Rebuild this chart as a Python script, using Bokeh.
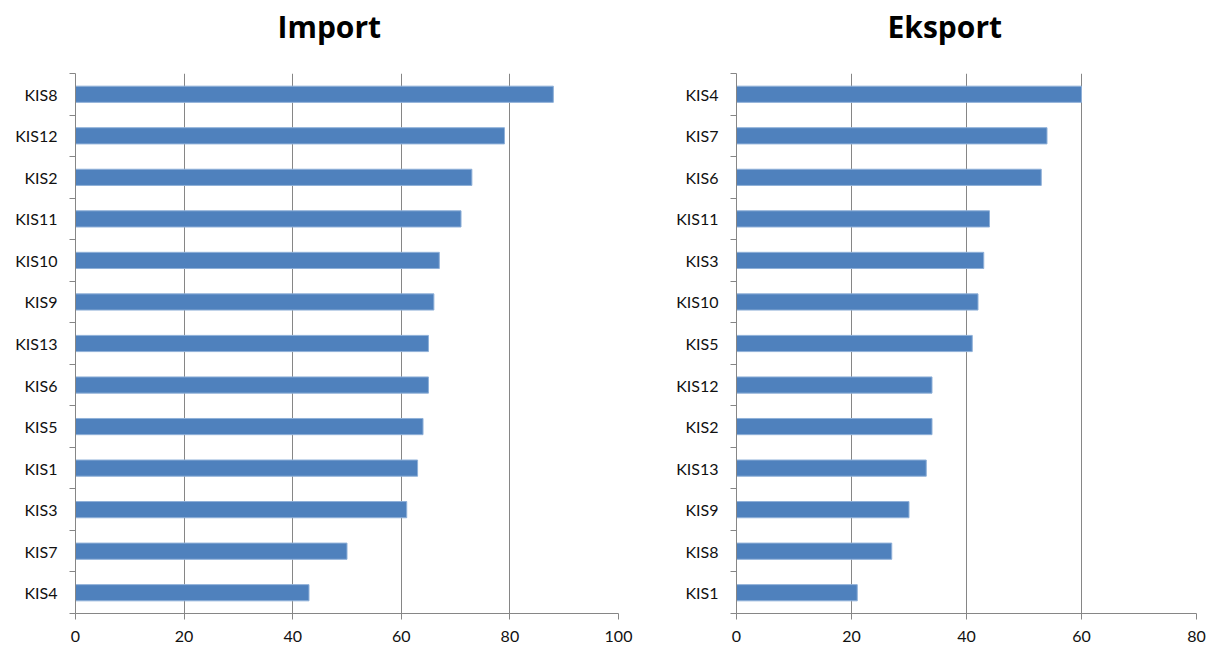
from bokeh.plotting import figure
from bokeh.layouts import row
from bokeh.models import FixedTicker, Range1d, Title
from bokeh.embed import file_html
from bokeh.resources import INLINE

# Import panel: categories listed top to bottom
import_labels = ["KIS8", "KIS12", "KIS2", "KIS11", "KIS10", "KIS9", "KIS13",
                 "KIS6", "KIS5", "KIS1", "KIS3", "KIS7", "KIS4"]
import_values = [88, 79, 73, 71, 67, 66, 65, 65, 64, 63, 61, 50, 43]

# Export panel: categories listed top to bottom
export_labels = ["KIS4", "KIS7", "KIS6", "KIS11", "KIS3", "KIS10", "KIS5",
                 "KIS12", "KIS2", "KIS13", "KIS9", "KIS8", "KIS1"]
export_values = [60, 54, 53, 44, 43, 42, 41, 34, 34, 33, 30, 27, 21]

import_ticks = [0, 20, 40, 60, 80, 100]
export_ticks = [0, 20, 40, 60, 80]

BAR = "#4f81bd"
GRID = "#868686"
FONT = "Lato"
TITLE_FONT = "Open Sans"


def panel(title, labels, values, xticks, width, left, right, title_shift):
    n = len(labels)
    ys = [n - 1 - i for i in range(n)]
    p = figure(width=width, height=650,
               x_range=Range1d(xticks[0], xticks[-1]),
               y_range=Range1d(-0.5, n - 0.5),
               output_backend="svg", toolbar_location=None,
               min_border_left=left, min_border_right=right,
               min_border_top=73, min_border_bottom=37)
    p.title.text = title
    p.title.align = "left"
    p.title.offset = title_shift
    p.title.standoff = 6
    p.title.text_font = TITLE_FONT
    p.title.text_font_style = "bold"
    p.title.text_font_size = "30px"
    p.title.text_color = "#000000"
    # blank band between the heading and the plot frame
    p.add_layout(Title(text=" ", text_font_size="10px", standoff=11), "above")
    p.outline_line_color = None

    p.hbar(y=ys, right=values, left=0, height=0.39,
           fill_color=BAR, line_color="#8fb0d8", line_width=1)

    # category axis: labels at centres, short ticks at boundaries
    yax = p.yaxis[0]
    yax.ticker = FixedTicker(ticks=ys,
                             minor_ticks=[k - 0.5 for k in range(n + 1)])
    yax.major_label_overrides = {y: lab for y, lab in zip(ys, labels)}
    yax.major_tick_line_color = None
    yax.minor_tick_line_color = GRID
    yax.minor_tick_out = 6
    yax.minor_tick_in = 0
    yax.axis_line_color = GRID
    yax.major_label_standoff = 12
    yax.major_label_text_font = FONT
    yax.major_label_text_font_size = "16px"
    yax.major_label_text_color = "#111111"

    xax = p.xaxis[0]
    xax.ticker = FixedTicker(ticks=xticks)
    xax.axis_line_color = GRID
    xax.major_tick_line_color = GRID
    xax.major_tick_out = 6
    xax.major_tick_in = 0
    xax.minor_tick_line_color = None
    xax.major_label_standoff = 11
    xax.major_label_text_font = FONT
    xax.major_label_text_font_size = "16px"
    xax.major_label_text_color = "#111111"

    p.ygrid.grid_line_color = None
    p.xgrid.ticker = FixedTicker(ticks=xticks)
    p.xgrid.grid_line_color = GRID
    p.xgrid.grid_line_width = 1
    return p


left_panel = panel("Import", import_labels, import_values, import_ticks,
                   640, 75, 22, 202)
right_panel = panel("Eksport", export_labels, export_values, export_ticks,
                    567, 96, 11, 151)

layout = row(left_panel, right_panel)
open("out.html", "w").write(file_html(layout, INLINE))
